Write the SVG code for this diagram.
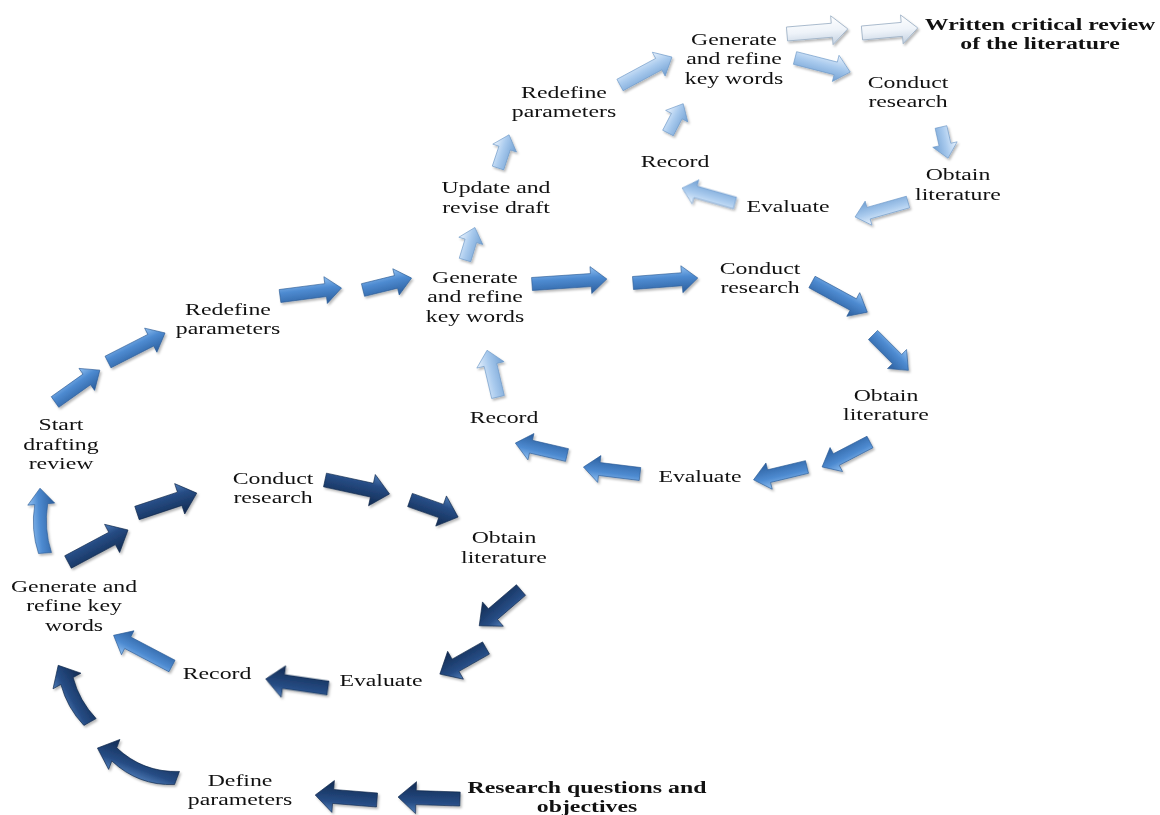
<svg xmlns="http://www.w3.org/2000/svg" width="1160" height="815" viewBox="0 0 1160 815">
<defs>
<linearGradient id="gDark" x1="0" y1="0" x2="0" y2="1">
<stop offset="0" stop-color="#4f7db8"/><stop offset="0.35" stop-color="#264c84"/><stop offset="1" stop-color="#122b52"/>
</linearGradient>
<linearGradient id="gMed" x1="0" y1="0" x2="0" y2="1">
<stop offset="0" stop-color="#93c2f2"/><stop offset="0.4" stop-color="#4e8bd1"/><stop offset="1" stop-color="#2a5d9c"/>
</linearGradient>
<linearGradient id="gLight" x1="0" y1="0" x2="0" y2="1">
<stop offset="0" stop-color="#eaf3fd"/><stop offset="0.45" stop-color="#aacbee"/><stop offset="1" stop-color="#709fd2"/>
</linearGradient>
<linearGradient id="gWhite" x1="0" y1="0" x2="0" y2="1">
<stop offset="0" stop-color="#ffffff"/><stop offset="0.5" stop-color="#eef3f9"/><stop offset="1" stop-color="#c2d0e0"/>
</linearGradient>
<filter id="sh" x="-10%" y="-10%" width="120%" height="120%">
<feDropShadow dx="1.5" dy="2" stdDeviation="1.2" flood-color="#000" flood-opacity="0.28"/>
</filter>
</defs>
<style>
.dk{fill:url(#gDark);stroke:#0e2548;stroke-width:0.6}
.md{fill:url(#gMed);stroke:#2a5a94;stroke-width:0.6}
.lt{fill:url(#gLight);stroke:#6a96c6;stroke-width:0.6}
.wh{fill:url(#gWhite);stroke:#9aaec4;stroke-width:0.8}
text{font-family:"Liberation Serif","Times New Roman",serif;font-size:17.5px;fill:#111;text-anchor:middle}
.b{font-weight:bold}
</style>
<rect width="1160" height="815" fill="#ffffff"/>
<g id="connectors" filter="url(#sh)">
<!-- dark loop -->
<path class="dk" transform="translate(460 799) rotate(181.8)" d="M0-7H44V-16L62 0L44 16V7H0Z"/>
<path class="dk" transform="translate(377 800) rotate(184.6)" d="M0-7H44V-16L62 0L44 16V7H0Z"/>
<path class="dk" transform="translate(177 778) rotate(200.6)" d="M0-7Q33.5-21 67-7V-16L85 0L67 16V7Q33.5-7 0 7Z"/>
<path class="dk" transform="translate(90 722) rotate(240.7)" d="M0-7Q23.5-13 47-7V-16L65 0L47 16V7Q23.5 1 0 7Z"/>
<path class="dk" transform="translate(328 688) rotate(188.3)" d="M0-7H45V-16L63 0L45 16V7H0Z"/>
<path class="dk" transform="translate(521 590) rotate(139.4)" d="M0-7H37V-16L55 0L37 16V7H0Z"/>
<path class="dk" transform="translate(486 648) rotate(150.5)" d="M0-7H35V-16L53 0L35 16V7H0Z"/>
<path class="dk" transform="translate(325 480) rotate(12.2)" d="M0-7H48V-16L66 0L48 16V7H0Z"/>
<path class="dk" transform="translate(410 500) rotate(19.5)" d="M0-7H33V-16L51 0L33 16V7H0Z"/>
<path class="dk" transform="translate(68 562) rotate(-28.1)" d="M0-7H50V-16L68 0L50 16V7H0Z"/>
<path class="dk" transform="translate(137 513) rotate(-18.4)" d="M0-7H45V-16L63 0L45 16V7H0Z"/>
<!-- medium loop -->
<path class="md" transform="translate(172 666) rotate(207.7)" d="M0-6.5H50V-13.5L66 0L50 13.5V6.5H0Z"/>
<path class="md" transform="translate(45 553) rotate(265.6)" d="M0-6.5Q24.5-12.5 49-6.5V-13.5L65 0L49 13.5V6.5Q24.5 0.5 0 6.5Z"/>
<path class="md" transform="translate(55 402) rotate(-35.4)" d="M0-6.5H39V-13.5L55 0L39 13.5V6.5H0Z"/>
<path class="md" transform="translate(108 362) rotate(-27)" d="M0-6.5H48V-13.5L64 0L48 13.5V6.5H0Z"/>
<path class="md" transform="translate(280 296) rotate(-7.4)" d="M0-6.5H46V-13.5L62 0L46 13.5V6.5H0Z"/>
<path class="md" transform="translate(363 290) rotate(-13.8)" d="M0-6.5H34V-13.5L50 0L34 13.5V6.5H0Z"/>
<path class="md" transform="translate(532 284) rotate(-3.8)" d="M0-6.5H59V-13.5L75 0L59 13.5V6.5H0Z"/>
<path class="md" transform="translate(633 283) rotate(-4.4)" d="M0-6.5H49V-13.5L65 0L49 13.5V6.5H0Z"/>
<path class="md" transform="translate(812 282) rotate(28.6)" d="M0-6.5H47V-13.5L63 0L47 13.5V6.5H0Z"/>
<path class="md" transform="translate(873 335) rotate(45)" d="M0-6.5H34V-13.5L50 0L34 13.5V6.5H0Z"/>
<path class="md" transform="translate(870 442) rotate(152.5)" d="M0-6.5H38V-13.5L54 0L38 13.5V6.5H0Z"/>
<path class="md" transform="translate(807 467) rotate(166.5)" d="M0-6.5H39V-13.5L55 0L39 13.5V6.5H0Z"/>
<path class="md" transform="translate(640 474) rotate(187)" d="M0-6.5H41V-13.5L57 0L41 13.5V6.5H0Z"/>
<path class="md" transform="translate(567 455) rotate(193)" d="M0-6.5H37V-13.5L53 0L37 13.5V6.5H0Z"/>
<!-- light loop -->
<path class="lt" transform="translate(498 397) rotate(256.8)" d="M0-6.5H33V-14L48 0L33 14V6.5H0Z"/>
<path class="lt" transform="translate(465 260) rotate(-73.1)" d="M0-6H20V-12.5L34 0L20 12.5V6H0Z"/>
<path class="lt" transform="translate(498 168) rotate(-71.6)" d="M0-6H21V-12.5L35 0L21 12.5V6H0Z"/>
<path class="lt" transform="translate(620 85) rotate(-28.3)" d="M0-6.5H44V-13.5L59 0L44 13.5V6.5H0Z"/>
<path class="lt" transform="translate(668 133) rotate(-62.6)" d="M0-6H19V-12.5L33 0L19 12.5V6H0Z"/>
<path class="lt" transform="translate(795 58) rotate(14.3)" d="M0-6.5H42V-13.5L57 0L42 13.5V6.5H0Z"/>
<path class="lt" transform="translate(941 127) rotate(77.3)" d="M0-6H18V-12.5L32 0L18 12.5V6H0Z"/>
<path class="lt" transform="translate(908 202) rotate(164.2)" d="M0-6H41V-12.5L55 0L41 12.5V6H0Z"/>
<path class="lt" transform="translate(735 203) rotate(195.8)" d="M0-6H41V-12.5L55 0L41 12.5V6H0Z"/>
<!-- final -->
<path class="wh" transform="translate(787 34) rotate(-4.8)" d="M0-7H45V-14.5L61 0L45 14.5V7H0Z"/>
<path class="wh" transform="translate(862 33) rotate(-5.2)" d="M0-7H40V-14.5L56 0L40 14.5V7H0Z"/>
</g>
<g id="n-research-questions" transform="translate(587 0) scale(1.36 1)"><text class="b" x="0" y="793">Research questions and</text><text class="b" x="0" y="812.5">objectives</text></g>
<g id="n-define" transform="translate(240 0) scale(1.36 1)"><text x="0" y="786">Define</text><text x="0" y="805.5">parameters</text></g>
<g id="n-generate1" transform="translate(74 0) scale(1.36 1)"><text x="0" y="592">Generate and</text><text x="0" y="611.5">refine key</text><text x="0" y="631">words</text></g>
<g id="n-conduct1" transform="translate(273 0) scale(1.36 1)"><text x="0" y="484">Conduct</text><text x="0" y="503.5">research</text></g>
<g id="n-obtain1" transform="translate(504 0) scale(1.36 1)"><text x="0" y="543">Obtain</text><text x="0" y="563">literature</text></g>
<g id="n-evaluate1" transform="translate(381 0) scale(1.36 1)"><text x="0" y="686">Evaluate</text></g>
<g id="n-record1" transform="translate(217 0) scale(1.36 1)"><text x="0" y="679">Record</text></g>
<g id="n-start" transform="translate(61 0) scale(1.36 1)"><text x="0" y="430.5">Start</text><text x="0" y="450">drafting</text><text x="0" y="469.5">review</text></g>
<g id="n-redefine1" transform="translate(228 0) scale(1.36 1)"><text x="0" y="315">Redefine</text><text x="0" y="334.5">parameters</text></g>
<g id="n-generate2" transform="translate(475 0) scale(1.36 1)"><text x="0" y="283">Generate</text><text x="0" y="302.5">and refine</text><text x="0" y="322">key words</text></g>
<g id="n-conduct2" transform="translate(760 0) scale(1.36 1)"><text x="0" y="274">Conduct</text><text x="0" y="293.5">research</text></g>
<g id="n-obtain2" transform="translate(886 0) scale(1.36 1)"><text x="0" y="401">Obtain</text><text x="0" y="420.5">literature</text></g>
<g id="n-evaluate2" transform="translate(700 0) scale(1.36 1)"><text x="0" y="482">Evaluate</text></g>
<g id="n-record2" transform="translate(504 0) scale(1.36 1)"><text x="0" y="423">Record</text></g>
<g id="n-update" transform="translate(496 0) scale(1.36 1)"><text x="0" y="193">Update and</text><text x="0" y="213">revise draft</text></g>
<g id="n-redefine2" transform="translate(564 0) scale(1.36 1)"><text x="0" y="98">Redefine</text><text x="0" y="117.5">parameters</text></g>
<g id="n-generate3" transform="translate(734 0) scale(1.36 1)"><text x="0" y="45">Generate</text><text x="0" y="64.5">and refine</text><text x="0" y="84">key words</text></g>
<g id="n-conduct3" transform="translate(908 0) scale(1.36 1)"><text x="0" y="88">Conduct</text><text x="0" y="107.5">research</text></g>
<g id="n-obtain3" transform="translate(958 0) scale(1.36 1)"><text x="0" y="180">Obtain</text><text x="0" y="200">literature</text></g>
<g id="n-evaluate3" transform="translate(788 0) scale(1.36 1)"><text x="0" y="212">Evaluate</text></g>
<g id="n-record3" transform="translate(675 0) scale(1.36 1)"><text x="0" y="167">Record</text></g>
<g id="n-written" transform="translate(1040 0) scale(1.36 1)"><text class="b" x="0" y="30">Written critical review</text><text class="b" x="0" y="49.5">of the literature</text></g>
</svg>
